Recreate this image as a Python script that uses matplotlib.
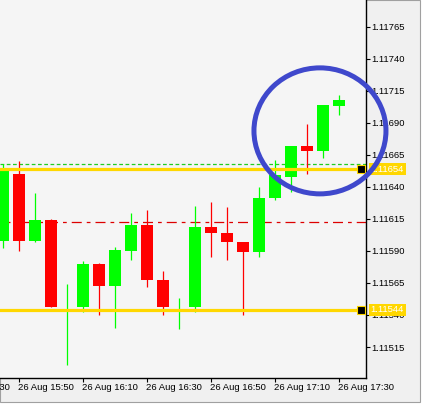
import matplotlib
matplotlib.use('Agg')
import matplotlib.pyplot as plt
import matplotlib.transforms as mtransforms
from matplotlib.patches import Ellipse, Rectangle

# 5-minute candles, 26 Aug 15:45 .. 17:30
times = ['15:45', '15:50', '15:55', '16:00', '16:05', '16:10', '16:15', '16:20',
         '16:25', '16:30', '16:35', '16:40', '16:45', '16:50', '16:55', '17:00',
         '17:05', '17:10', '17:15', '17:20', '17:25', '17:30']
opens = [1.11598, 1.11650, 1.11598, 1.11614, 1.11545, 1.11546, 1.11580, 1.11563,
         1.11590, 1.11610, 1.11567, 1.11545, 1.11546, 1.11609, 1.11604, 1.11597,
         1.11589, 1.11631, 1.11648, 1.11672, 1.11668, 1.11703]
highs = [1.11658, 1.11660, 1.11635, 1.11615, 1.11564, 1.11582, 1.11581, 1.11593,
         1.11620, 1.11622, 1.11574, 1.11553, 1.11625, 1.11628, 1.11624, 1.11597,
         1.11640, 1.11661, 1.11672, 1.11689, 1.11704, 1.11712]
lows = [1.11592, 1.11590, 1.11597, 1.11546, 1.11501, 1.11542, 1.11540, 1.11530,
        1.11583, 1.11562, 1.11540, 1.11529, 1.11542, 1.11585, 1.11583, 1.11540,
        1.11585, 1.11630, 1.11636, 1.11650, 1.11663, 1.11696]
closes = [1.11653, 1.11598, 1.11614, 1.11546, 1.11545, 1.11580, 1.11563, 1.11591,
          1.11610, 1.11567, 1.11546, 1.11545, 1.11609, 1.11604, 1.11597, 1.11589,
          1.11631, 1.11649, 1.11672, 1.11668, 1.11704, 1.11708]

# axis labels
x_labels = ['26 Aug 15:30', '26 Aug 15:50', '26 Aug 16:10', '26 Aug 16:30',
            '26 Aug 16:50', '26 Aug 17:10', '26 Aug 17:30']
x_label_pos = [-3, 1, 5, 9, 13, 17, 21]
y_ticks = [1.11515, 1.11540, 1.11565, 1.11590, 1.11615, 1.11640, 1.11665,
           1.11690, 1.11715, 1.11740, 1.11765]

# horizontal levels
levels = [1.11654, 1.11544]
green_level = 1.11658
red_level = 1.11613

plt.rcParams['font.family'] = ['Liberation Sans', 'DejaVu Sans']
fs = 6.8

fig = plt.figure(figsize=(4.27, 4.04), dpi=100, facecolor='white')
# window panel
fig.patches.append(Rectangle((0, 2 / 404), 420 / 427, 402 / 404, transform=fig.transFigure,
                             fc='#f0f0f0', ec='#a0a0a0', lw=0.8, zorder=-10))
ax = fig.add_axes([0, 26 / 404, 366 / 427, 378 / 404])
ax.set_facecolor('#f5f5f5')

up_col = '#00ff00'
dn_col = '#ff0000'
body_w = 0.69
for i in range(len(times)):
    o, h, l, c = opens[i], highs[i], lows[i], closes[i]
    col = up_col if c >= o else dn_col
    ax.vlines(i, l, h, color=col, lw=0.9, zorder=2)
    if c != o:
        ax.bar(i, abs(c - o), bottom=min(o, c), width=body_w, color=col, lw=0, zorder=3)

ax.axhline(green_level, color='#22cc22', lw=0.9, dashes=(3, 2), zorder=1)
ax.axhline(red_level, color='#dd0000', lw=0.9, dashes=(8, 4, 3, 4), zorder=1)
for lv in levels:
    ax.axhline(lv, color='#ffd700', lw=2.3, zorder=4)

ax.set_xlim(-0.1875, 22.6875)
ax.set_ylim(1.114908, 1.11786)

# right price axis
ax.yaxis.tick_right()
ax.set_yticks(y_ticks)
ax.set_yticklabels(['%.5f' % v for v in y_ticks], fontsize=fs)
ax.tick_params(axis='y', length=3, width=0.8, pad=1, colors='black')
ax.set_xticks(x_label_pos[1:])
ax.set_xticklabels([])
ax.tick_params(axis='x', length=3, width=0.8)
for s in ['left', 'top']:
    ax.spines[s].set_visible(False)
for s in ['right', 'bottom']:
    ax.spines[s].set_linewidth(1)

trans = mtransforms.blended_transform_factory(ax.transData, ax.transAxes)
for p, lab in zip(x_label_pos, x_labels):
    ax.text(p - 0.05, -0.013, lab, transform=trans, ha='left', va='top',
            fontsize=fs, clip_on=False)

# level markers and price labels
ytrans = mtransforms.blended_transform_factory(ax.transAxes, ax.transData)
for lv in levels:
    ax.plot(22.375, lv, marker='s', ms=6, mfc='black', mec='#ffd700', mew=0.8,
            clip_on=False, zorder=6)
    ax.text(1 + 4.5 / 366, lv, '%.5f' % lv, transform=ytrans, ha='left', va='center',
            fontsize=fs, color='white', clip_on=False, zorder=7,
            bbox=dict(boxstyle='square,pad=0.18', fc='#ffd700', ec='none'))

# highlight circle
ax.add_patch(Ellipse((19.81, 1.116838), 8.25, 0.000984, fill=False,
                     ec='#3f48cc', lw=3.6, clip_on=False, zorder=8))

fig.savefig('out.png', dpi=100, facecolor=fig.get_facecolor())
